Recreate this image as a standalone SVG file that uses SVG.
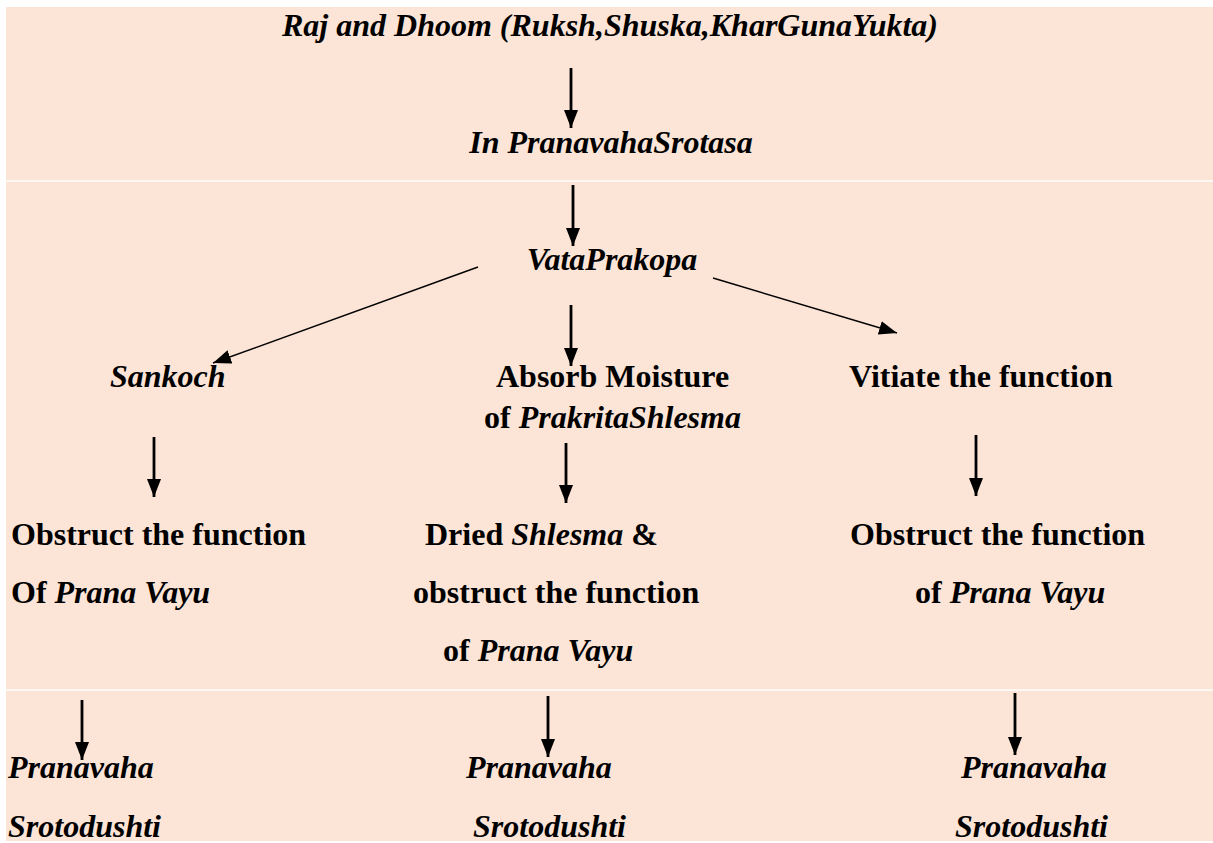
<svg xmlns="http://www.w3.org/2000/svg" width="1213" height="843" viewBox="0 0 1213 843">
<style>
text{font-family:"Liberation Serif","Times New Roman",serif;font-size:32px;font-weight:bold;fill:#000}
.i{font-style:italic}
.v{stroke:#000;stroke-width:2.8;fill:none}
.d{stroke:#000;stroke-width:1.4;fill:none}
.sep{stroke:#fff;stroke-width:1.6}
</style>
<defs>
<marker id="ah" markerUnits="userSpaceOnUse" markerWidth="19" markerHeight="14" refX="18" refY="7" orient="auto">
<path d="M0,0 L18,7 L0,14 z" fill="#000"/>
</marker>
<marker id="ad" markerUnits="userSpaceOnUse" markerWidth="19" markerHeight="14" refX="18" refY="7" orient="auto">
<path d="M0,0 L18,7 L0,14 z" fill="#000"/>
</marker>
</defs>
<rect x="0" y="0" width="1213" height="843" fill="#fff"/>
<rect x="6" y="7" width="1207" height="834" fill="#FCE4D6"/>
<g id="separators">
<line class="sep" x1="6" y1="181" x2="1213" y2="181"/>
<line class="sep" x1="6" y1="690" x2="1213" y2="690"/>
</g>
<g id="connectors">
<line class="v" x1="571" y1="68" x2="571" y2="128" marker-end="url(#ah)"/>
<line class="v" x1="573" y1="185" x2="573" y2="246" marker-end="url(#ah)"/>
<line class="d" x1="478" y1="267" x2="213" y2="363" marker-end="url(#ad)"/>
<line class="v" x1="571" y1="305" x2="571" y2="366" marker-end="url(#ah)"/>
<line class="d" x1="713" y1="278" x2="897" y2="333" marker-end="url(#ad)"/>
<line class="v" x1="154" y1="437" x2="154" y2="497" marker-end="url(#ah)"/>
<line class="v" x1="566" y1="443" x2="566" y2="503" marker-end="url(#ah)"/>
<line class="v" x1="976" y1="435" x2="976" y2="496" marker-end="url(#ah)"/>
<line class="v" x1="82" y1="700" x2="82" y2="760" marker-end="url(#ah)"/>
<line class="v" x1="548" y1="696" x2="548" y2="757" marker-end="url(#ah)"/>
<line class="v" x1="1015" y1="693" x2="1015" y2="755" marker-end="url(#ah)"/>
</g>
<g id="n-raj"><text class="i" x="610" y="36" text-anchor="middle">Raj and Dhoom (Ruksh,Shuska,KharGunaYukta)</text></g>
<g id="n-srotasa"><text class="i" x="611" y="153" text-anchor="middle">In PranavahaSrotasa</text></g>
<g id="n-vata"><text class="i" x="612" y="270" text-anchor="middle">VataPrakopa</text></g>
<g id="n-sankoch"><text class="i" x="110" y="387">Sankoch</text></g>
<g id="n-absorb">
<text x="496" y="387">Absorb Moisture</text>
<text x="484" y="428">of <tspan class="i">PrakritaShlesma</tspan></text>
</g>
<g id="n-vitiate"><text x="849" y="387">Vitiate the function</text></g>
<g id="n-obstruct-left">
<text x="11" y="545">Obstruct the function</text>
<text x="11" y="603">Of <tspan class="i">Prana Vayu</tspan></text>
</g>
<g id="n-dried">
<text x="425" y="545">Dried <tspan class="i">Shlesma</tspan> &amp;</text>
<text x="413" y="603">obstruct the function</text>
<text x="443" y="661">of <tspan class="i">Prana Vayu</tspan></text>
</g>
<g id="n-obstruct-right">
<text x="850" y="545">Obstruct the function</text>
<text x="915" y="603">of <tspan class="i">Prana Vayu</tspan></text>
</g>
<g id="n-pd-left">
<text class="i" x="8" y="778">Pranavaha</text>
<text class="i" x="8" y="837">Srotodushti</text>
</g>
<g id="n-pd-mid">
<text class="i" x="466" y="778">Pranavaha</text>
<text class="i" x="473" y="837">Srotodushti</text>
</g>
<g id="n-pd-right">
<text class="i" x="961" y="778">Pranavaha</text>
<text class="i" x="955" y="837">Srotodushti</text>
</g>
</svg>
